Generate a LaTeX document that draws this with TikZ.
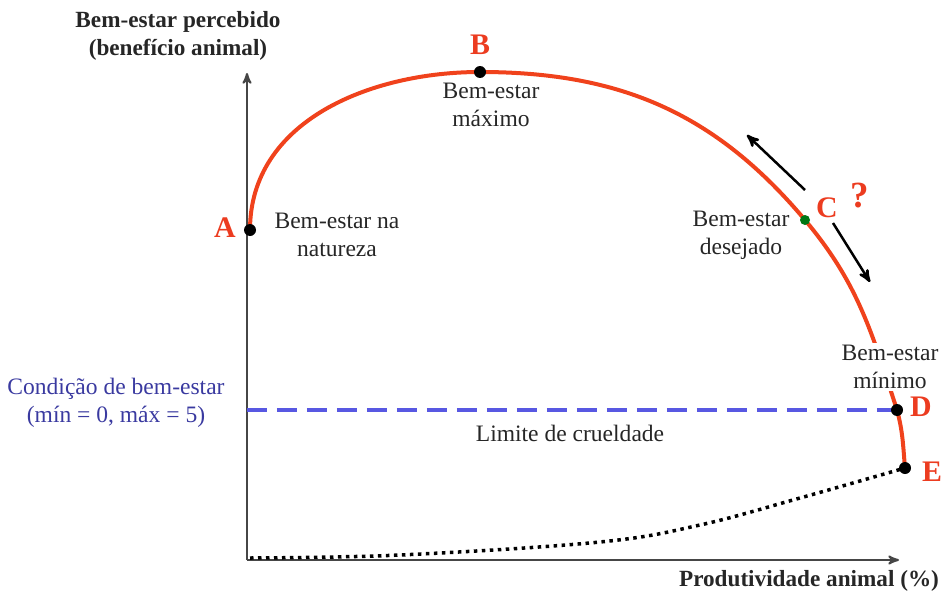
\documentclass[tikz,border=0pt]{standalone}
\usepackage{fontspec}
\setmainfont{Liberation Serif}
\usepackage{tikz}
\usetikzlibrary{arrows}
\definecolor{curvered}{RGB}{240,66,28}
\definecolor{letterred}{RGB}{236,60,32}
\definecolor{limitblue}{RGB}{88,88,226}
\definecolor{textblue}{RGB}{58,58,160}
\definecolor{pointgreen}{RGB}{0,118,20}
\definecolor{axisgray}{RGB}{70,70,70}

\begin{document}
\begin{tikzpicture}[x=0.02cm,y=0.02cm,>=stealth',
                    dot/.style={circle,fill=black,inner sep=0pt,minimum size=0.24cm},
                    point label/.style={text=letterred,font=\fontsize{17}{20}\selectfont\bfseries},
                    note/.style={align=center,text=black!85,font=\fontsize{13.4}{16}\selectfont},
                    axis label/.style={align=center,text=black!85,font=\fontsize{13.2}{16}\selectfont\bfseries},
                    welfare curve/.style={draw=curvered,line width=0.08cm}]
  \useasboundingbox (0,0) rectangle (943,593);

  % axes
  \coordinate (O) at (247,33);
  \coordinate (ytop) at (247,520);
  \coordinate (xend) at (899,33);
  \draw[->,axisgray,line width=0.04cm] (O) -- (ytop);
  \draw[->,axisgray,line width=0.04cm] (O) -- (xend);

  % points on the curve
  \coordinate (A) at (250,363);
  \coordinate (B) at (480,521);
  \coordinate (C) at (805,373);
  \coordinate (D) at (897,183);
  \coordinate (E) at (905,125);

  % limit line
  \coordinate (L) at (247,183);
  \draw[limitblue,line width=0.07cm,dash pattern=on 0.4cm off 0.2cm] (L) -- (D);

  % welfare curve
  \draw[welfare curve] (A) to[out=90,in=180] (B)
    to[out=0,in=130] (C) to[out=-50,in=108] (D) to[out=-75,in=95] (E);

  % productivity curve
  \coordinate (P) at (250,35);
  \coordinate (r1) at (400,38);
  \coordinate (r2) at (600,51);
  \coordinate (r3) at (700,68);
  \coordinate (r4) at (800,95);
  \draw[black,line width=0.07cm,dash pattern=on 0.07cm off 0.09cm]
    plot[smooth,tension=0.6] coordinates {(P) (r1) (r2) (r3) (r4) (E)};

  \node[dot] (dA) at (A) {};
  \node[dot] (dB) at (B) {};
  \node[dot,fill=pointgreen,minimum size=0.2cm] (dC) at (C) {};
  \node[dot] (dD) at (D) {};
  \node[dot] (dE) at (E) {};

  \node[point label] (lA) at (225,365) {A};
  \node[point label] (lB) at (480,548) {B};
  \node[point label] (lC) at (827,385) {C};
  \node[point label,font=\fontsize{21}{24}\selectfont\bfseries] (lq) at (860,397) {?};
  \node[point label] (lD) at (921,186) {D};
  \node[point label] (lE) at (932,121) {E};

  % arrows along the curve
  \coordinate (u1) at (805,403);
  \coordinate (u2) at (747,458);
  \coordinate (w1) at (833,370);
  \coordinate (w2) at (870,311);
  \draw[->,line width=0.05cm] (u1) -- (u2);
  \draw[->,line width=0.05cm] (w1) -- (w2);

  \node[axis label] (ylab) at (178,557) {Bem-estar percebido\\(benefício animal)};
  \node[axis label] (xlab) at (809,12) {Produtividade animal (\%)};
  \node[note] (nA) at (337,358) {Bem-estar na\\natureza};
  \node[note] (nB) at (491,488) {Bem-estar\\máximo};
  \node[note] (nC) at (741,358) {Bem-estar\\desejado};
  \node[note,fill=white,inner sep=1pt] (nD) at (890,226) {Bem-estar\\mínimo};
  \node[note,text=textblue] (cond) at (116,190) {Condição de bem-estar\\(mín = 0, máx = 5)};
  \node[note] (lim) at (570,160) {Limite de crueldade};
\end{tikzpicture}
\end{document}
